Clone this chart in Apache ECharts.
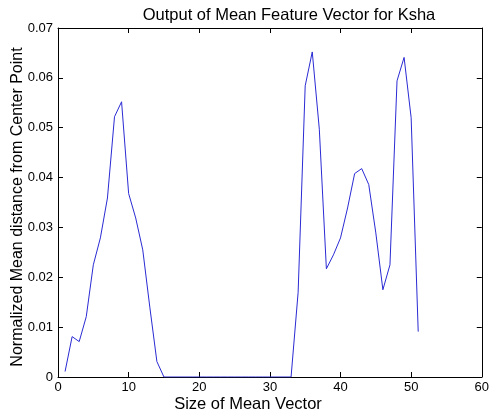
<!DOCTYPE html>
<html>
<head>
<meta charset="utf-8">
<script src="https://cdn.jsdelivr.net/npm/echarts@6/dist/echarts.min.js"></script>
<style>html,body{margin:0;padding:0;background:#fff;}#c{width:492px;height:417px;}</style>
</head>
<body>
<div id="c"></div>
<script>
const titleText = 'Output of Mean Feature Vector for Ksha';
const xName = 'Size of Mean Vector';
const yName = 'Normalized Mean distance from Center Point';
const xTicks = [0, 10, 20, 30, 40, 50, 60];
const yTicks = [0, 0.01, 0.02, 0.03, 0.04, 0.05, 0.06, 0.07];
const sizes = [1,2,3,4,5,6,7,8,9,10,11,12,13,14,15,16,17,18,19,20,21,22,23,24,25,26,27,28,29,30,31,32,33,34,35,36,37,38,39,40,41,42,43,44,45,46,47,48,49,50,51];
const distances = [0.0011,0.0081,0.0071,0.0121,0.0225,0.0279,0.0359,0.0522,0.0552,0.0368,0.0319,0.0255,0.0140,0.0031,0,0,0,0,0,0,0,0,0,0,0,0,0,0,0,0,0,0,0,0.0170,0.0584,0.0652,0.0497,0.0217,0.0245,0.0279,0.0339,0.0408,0.0418,0.0386,0.0289,0.0175,0.0225,0.0594,0.0641,0.0520,0.0091];

const chart = echarts.init(document.getElementById('c'), null, {renderer: 'canvas'});
const font = 'Liberation Sans, Arial, Helvetica, sans-serif';
const axisCommon = () => ({
  axisLine: {show: true, onZero: false, lineStyle: {color: '#000', width: 1}},
  axisTick: {show: true, inside: true, length: 5, lineStyle: {color: '#000'}},
  splitLine: {show: false}
});
chart.setOption({
  animation: false,
  backgroundColor: '#fff',
  grid: {left: 58, right: 6, top: 28, bottom: 40, containLabel: false},
  xAxis: [
    Object.assign({type: 'value', position: 'bottom', min: xTicks[0], max: xTicks[xTicks.length-1], interval: 10,
      axisLabel: {color: '#000', fontSize: 13, fontFamily: font, margin: 4}}, axisCommon()),
    Object.assign({type: 'value', position: 'top', min: xTicks[0], max: xTicks[xTicks.length-1], interval: 10,
      axisLabel: {show: false}}, axisCommon())
  ],
  yAxis: [
    Object.assign({type: 'value', position: 'left', min: yTicks[0], max: yTicks[yTicks.length-1], interval: 0.01,
      axisLabel: {color: '#000', fontSize: 13, fontFamily: font, margin: 5,
        formatter: v => (Math.round(v*100)/100).toString()}}, axisCommon()),
    Object.assign({type: 'value', position: 'right', min: yTicks[0], max: yTicks[yTicks.length-1], interval: 0.01,
      axisLabel: {show: false}}, axisCommon())
  ],
  series: [{
    type: 'line',
    xAxisIndex: 0,
    yAxisIndex: 0,
    data: sizes.map((s, i) => [s, distances[i]]),
    symbol: 'none',
    lineStyle: {color: '#2a2ad4', width: 1},
    silent: true
  }],
  graphic: [
    {type: 'text', x: 289, y: 15, style: {text: titleText, font: '16.5px ' + font, fill: '#000', textAlign: 'center', textVerticalAlign: 'middle'}},
    {type: 'text', x: 248, y: 404, style: {text: xName, font: '16.5px ' + font, fill: '#000', textAlign: 'center', textVerticalAlign: 'middle'}},
    {type: 'text', x: 18, y: 207, rotation: Math.PI/2, style: {text: yName, font: '16px ' + font, fill: '#000', textAlign: 'center', textVerticalAlign: 'middle'}}
  ]
});
</script>
</body>
</html>
